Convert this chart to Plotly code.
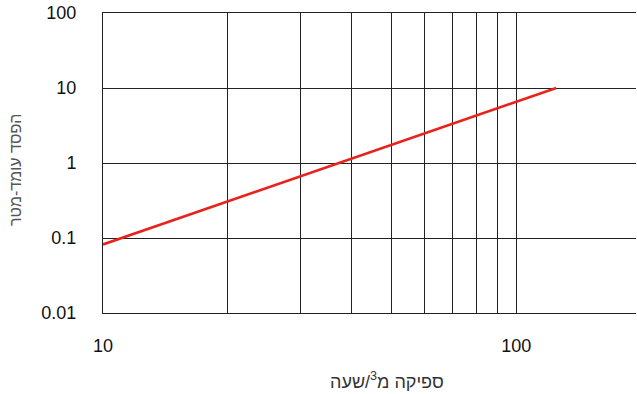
import plotly.graph_objects as go

# Data
flow = [10, 125]            # m3/h
head_loss = [0.082, 10]     # m
x_tickvals = [10, 100]
x_ticktext = ["10", "100"]
x_minorvals = [20, 30, 40, 50, 60, 70, 80, 90]
y_tickvals = [0.01, 0.1, 1, 10, 100]
y_ticktext = ["0.01", "0.1", "1", "10", "100"]

FONT = "Liberation Sans, Arial, sans-serif"
GRID = "#222"

fig = go.Figure()
fig.add_trace(go.Scatter(
    x=flow, y=head_loss, mode="lines",
    line=dict(color="#e8231c", width=2.6),
    showlegend=False, hoverinfo="skip",
))

fig.update_layout(
    width=637, height=394,
    margin=dict(l=103, r=1, t=13, b=81, autoexpand=False),
    paper_bgcolor="white", plot_bgcolor="white",
    font=dict(family=FONT, size=18, color="#111"),
    xaxis=dict(
        type="log", range=[1, 2.29],
        tickvals=x_tickvals, ticktext=x_ticktext,
        showgrid=True, gridcolor=GRID, gridwidth=1,
        minor=dict(tickvals=x_minorvals, showgrid=True, gridcolor=GRID, gridwidth=1, ticks=""),
        showline=True, linecolor=GRID, linewidth=1, mirror=True,
        ticks="", ticklabelstandoff=16,
        zeroline=False, automargin=False,
    ),
    yaxis=dict(
        type="log", range=[-2, 2],
        tickvals=y_tickvals, ticktext=y_ticktext,
        showgrid=True, gridcolor=GRID, gridwidth=1,
        showline=True, linecolor=GRID, linewidth=1,
        ticks="", ticklabelstandoff=22,
        zeroline=False, automargin=False,
    ),
    annotations=[
        dict(
            text="ספיקה מ<sup>3</sup>/שעה", xref="paper", yref="paper",
            x=(387 - 103) / (636 - 103), y=-(380 - 313) / 300,
            xanchor="center", yanchor="middle", showarrow=False,
            font=dict(size=18, color="#333", family=FONT),
        ),
        dict(
            text="הפסד עומד-מטר", xref="paper", yref="paper",
            x=(15 - 103) / (636 - 103), y=(313 - 170) / 300,
            xanchor="center", yanchor="middle", showarrow=False, textangle=-90,
            font=dict(size=16, color="#555", family=FONT),
        ),
    ],
)

fig.write_html(
    "out.html",
    config={"displayModeBar": False},
    post_script="document.body.style.margin='0';document.body.style.overflow='hidden';",
)
